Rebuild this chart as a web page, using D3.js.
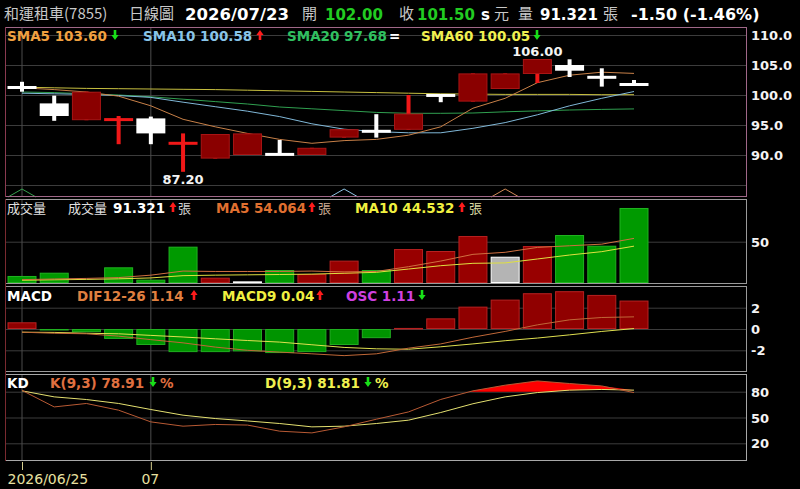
<!DOCTYPE html>
<html><head><meta charset="utf-8">
<script src="https://cdn.jsdelivr.net/npm/d3@7"></script>
<style>
html,body{margin:0;padding:0;background:#000;}
svg{display:block;}
</style></head><body>
<svg id="c" width="800" height="489"></svg>
<script>
// ---------- DATA ----------
const tickIdx = [0, 4];
const tickLabels = ["2026/06/25", "07"];

const openP  = [101.4, 98.6, 95.8, 95.85, 96.1, 91.9, 89.4, 90.0, 90.15, 90.0, 92.9, 94.2, 94.2, 100.1, 98.9, 101.0, 103.5, 105.0, 103.05, 102.0];
const highP  = [102.2, 99.9, 100.55, 96.5, 96.4, 93.6, 93.5, 93.6, 92.5, 91.2, 94.3, 96.8, 100.0, 100.1, 103.6, 103.6, 106.0, 105.95, 104.45, 102.5];
const lowP   = [100.55, 95.7, 95.8, 91.8, 91.8, 87.2, 89.4, 90.0, 90.05, 90.0, 92.9, 92.9, 94.2, 98.8, 98.9, 101.0, 102.0, 103.0, 101.4, 101.5];
const closeP = [101.1, 96.5, 100.55, 95.95, 93.6, 92.0, 93.5, 93.6, 90.05, 91.2, 94.3, 93.7, 96.9, 99.75, 103.6, 103.6, 106.0, 104.05, 102.85, 101.5];

const sma5  = [101.2, 100.9, 100.5, 99.8, 98.2, 95.95, 94.7, 93.6, 92.6, 91.95, 92.4, 92.6, 93.3, 94.7, 97.8, 99.45, 102.05, 103.3, 103.8, 103.6];
const sma10 = [100.3, 100.2, 100.1, 99.9, 99.6, 98.8, 98.05, 97.3, 96.4, 95.2, 94.3, 93.9, 93.7, 93.7, 94.45, 95.4, 96.7, 98.2, 99.45, 100.58];
const sma20 = [100.5, 100.4, 100.2, 100.0, 99.7, 99.3, 98.9, 98.5, 98.0, 97.7, 97.4, 97.1, 96.95, 96.95, 97.0, 97.2, 97.35, 97.5, 97.6, 97.68];
const sma60 = [101.3, 101.2, 101.1, 101.05, 101.0, 100.95, 100.9, 100.8, 100.7, 100.6, 100.5, 100.4, 100.3, 100.2, 100.15, 100.1, 100.1, 100.1, 100.05, 100.05];

const volume = [8.0, 12.0, 0, 18.6, 3.5, 43.9, 5.9, 1.4, 15.3, 10.4, 26.8, 15.3, 41.0, 38.6, 57.0, 31.6, 44.7, 58.2, 45.1, 91.321];
const volDir = ["down","down","up","down","down","down","up","flat","down","up","up","down","up","up","up","flat","up","down","down","down"];
const volMA5  = [3.5, 4.3, 5.0, 6.0, 9.0, 14.0, 13.5, 13.5, 13.5, 14.0, 13.0, 13.5, 19.4, 26.3, 34.5, 37.0, 43.0, 45.0, 47.0, 54.064];
const volMA10 = [2.7, 3.3, 3.8, 4.5, 5.6, 8.4, 9.0, 9.4, 9.8, 10.3, 11.3, 12.5, 16.5, 20.6, 23.5, 24.0, 28.8, 33.7, 37.8, 44.532];

const osc   = [0.63, -0.12, -0.3, -0.93, -1.5, -2.17, -2.17, -2.1, -2.26, -2.17, -1.5, -0.86, 0.1, 1.0, 2.1, 2.76, 3.36, 3.55, 3.2, 2.67];
const dif   = [-0.3, -0.4, -0.45, -0.67, -1.0, -1.3, -1.7, -2.0, -2.17, -2.33, -2.5, -2.33, -1.8, -1.4, -0.77, -0.23, 0.39, 0.86, 1.08, 1.14];
const macd9 = [-0.3, -0.32, -0.4, -0.45, -0.6, -0.75, -0.92, -1.08, -1.23, -1.48, -1.73, -1.86, -1.9, -1.67, -1.4, -1.1, -0.85, -0.55, -0.23, 0.04];

const kVal = [81.5, 62.3, 66.3, 58.5, 44.9, 39.9, 41.9, 41.2, 34.1, 32.1, 39.1, 48.0, 56.5, 71.0, 81.0, 87.6, 92.5, 89.5, 86.7, 78.91];
const dVal = [81.0, 74.0, 70.9, 66.3, 59.3, 52.7, 48.8, 46.0, 43.0, 39.1, 39.9, 43.0, 46.9, 55.8, 66.0, 74.0, 79.0, 81.8, 82.6, 81.81];

const priceTicks = [110, 105, 100, 95, 90, 85];
const volTicks = [50];
const macdTicks = [2, 0, -2];
const kdTicks = [80, 50, 20];

const signalIdx = [0, 10, 15];
const signalCol = ["#38a050", "#90c4e4", "#d08a58"];

// ---------- LAYOUT ----------
const svg = d3.select("#c");
svg.append("rect").attr("width",800).attr("height",489).attr("fill","#000");
const L = 5, R = 747;
const P = {
  main: {top: 27, bot: 197},
  vol:  {top: 199, bot: 284},
  macd: {top: 286, bot: 372},
  kd:   {top: 374, bot: 461}
};
const LAT = "'DejaVu Sans', Verdana, sans-serif";
const CJK = "'Noto Sans CJK TC', 'Noto Sans CJK SC', sans-serif";

const x = d3.scaleLinear().domain([0, 19]).range([22, 634]);
const yMain = d3.scaleLinear().domain([85, 110]).range([185, 35]);
const yVol = d3.scaleLinear().domain([0, 50]).range([282.5, 241.7]);
const yMacd = d3.scaleLinear().domain([-2, 2]).range([350.3, 307.7]);
const yKd = d3.scaleLinear().domain([20, 80]).range([443.3, 391.7]);
const BW = 29;
const idx = d3.range(openP.length);

function panel(p, scale, ticks, fmt) {
  const g = svg.append("g");
  g.append("rect").attr("x", L).attr("y", p.top).attr("width", R - L).attr("height", p.bot - p.top)
    .attr("fill", "#000");
  const ax = d3.axisRight(scale).tickValues(ticks).tickFormat(fmt).tickSize(-(R - L)).tickPadding(4);
  const ag = g.append("g").attr("transform", `translate(${R},0)`).call(ax);
  ag.select(".domain").remove();
  ag.selectAll(".tick line").attr("stroke", "#3c3c3c").attr("stroke-width", 1);
  ag.selectAll(".tick text").attr("fill", "#f4f4f4").attr("font-family", LAT)
    .attr("font-size", 13).attr("font-weight", "bold").attr("dy", "0.36em");
  tickIdx.forEach(i => {
    g.append("line").attr("x1", x(i)).attr("x2", x(i)).attr("y1", p.top).attr("y2", p.bot)
      .attr("stroke", "#4c4c4c").attr("stroke-width", 1);
  });
  return g;
}
panel(P.main, yMain, priceTicks, d => d === 85 ? "" : d.toFixed(1));
panel(P.vol, yVol, volTicks, d => d);
panel(P.macd, yMacd, macdTicks, d => d);
panel(P.kd, yKd, kdTicks, d => d);

// ---------- MAIN ----------
const gm = svg.append("g");
function line(g, arr, scale, color, w) {
  g.append("path").datum(arr)
    .attr("d", d3.line().x((d, i) => x(i)).y(d => scale(d)))
    .attr("fill", "none").attr("stroke", color).attr("stroke-width", w || 1);
}
line(gm, sma60, yMain, "#c8c040");
line(gm, sma20, yMain, "#30a050");
line(gm, sma10, yMain, "#80b8d8");
line(gm, sma5, yMain, "#c88048");

idx.forEach(i => {
  const o = openP[i], c = closeP[i], h = highP[i], l = lowP[i];
  const up = c > o;
  const wickCol = up ? "#f01818" : "#ffffff";
  gm.append("rect").attr("x", x(i) - 2).attr("width", 4)
    .attr("y", yMain(h)).attr("height", Math.max(2, yMain(l) - yMain(h))).attr("fill", wickCol);
  const yt = yMain(Math.max(o, c)), yb = yMain(Math.min(o, c));
  if (yb - yt < 3) {
    const ym = (yt + yb) / 2;
    gm.append("rect").attr("x", x(i) - BW / 2).attr("width", BW).attr("y", ym - 1.5).attr("height", 3).attr("fill", wickCol);
  } else if (up) {
    gm.append("rect").attr("x", x(i) - BW / 2 + 0.5).attr("width", BW - 1).attr("y", yt + 0.5).attr("height", yb - yt - 1)
      .attr("fill", "#8a0000").attr("stroke", "#a81414").attr("stroke-width", 1);
  } else {
    gm.append("rect").attr("x", x(i) - BW / 2).attr("width", BW).attr("y", yt).attr("height", yb - yt).attr("fill", "#ffffff");
  }
});
const hi = d3.maxIndex(highP), lo = d3.minIndex(lowP);
gm.append("text").attr("x", x(hi)).attr("y", yMain(highP[hi]) - 3.5).attr("text-anchor", "middle")
  .attr("fill", "#f4f4f4").attr("font-family", LAT).attr("font-size", 13).attr("font-weight", "bold").text(highP[hi].toFixed(2));
gm.append("text").attr("x", x(lo)).attr("y", yMain(lowP[lo]) + 12.5).attr("text-anchor", "middle")
  .attr("fill", "#f4f4f4").attr("font-family", LAT).attr("font-size", 13).attr("font-weight", "bold").text(lowP[lo].toFixed(2));
signalIdx.forEach((s, k) => {
  gm.append("path").attr("d", `M${x(s) - 14},${P.main.bot} L${x(s)},${P.main.bot - 8} L${x(s) + 14},${P.main.bot}`)
    .attr("fill", "none").attr("stroke", signalCol[k]).attr("stroke-width", 1);
});

// ---------- VOLUME ----------
const gv = svg.append("g");
const volFill = {up: "#980000", down: "#009a00", flat: "#b4b4b4"};
const volStroke = {up: "#b82020", down: "#20b420", flat: "#ffffff"};
idx.forEach(i => {
  if (volume[i] <= 0) return;
  const yt = yVol(volume[i]);
  gv.append("rect").attr("x", x(i) - BW / 2 + 0.5).attr("width", BW - 1).attr("y", yt + 0.5)
    .attr("height", Math.max(0.5, yVol(0) - yt - 0.5))
    .attr("fill", volFill[volDir[i]]).attr("stroke", volStroke[volDir[i]]).attr("stroke-width", 1);
});
line(gv, volMA10, yVol, "#e0e040");
line(gv, volMA5, yVol, "#d07040");

// ---------- MACD ----------
const gc = svg.append("g");
idx.forEach(i => {
  const v = osc[i];
  const y0 = yMacd(0), y1 = yMacd(v);
  const pos = v >= 0;
  gc.append("rect").attr("x", x(i) - BW / 2 + 0.5).attr("width", BW - 1)
    .attr("y", Math.min(y0, y1) + 0.5).attr("height", Math.max(0.5, Math.abs(y1 - y0) - 1))
    .attr("fill", pos ? "#900000" : "#009400").attr("stroke", pos ? "#b82020" : "#20b020").attr("stroke-width", 1);
});
line(gc, macd9, yMacd, "#e0e050");
line(gc, dif, yMacd, "#c06838");

// ---------- KD ----------
const gk = svg.append("g");
svg.append("clipPath").attr("id", "ob").append("rect")
  .attr("x", L).attr("y", P.kd.top).attr("width", R - L).attr("height", yKd(80) - P.kd.top);
gk.append("path").datum(idx)
  .attr("d", d3.area().x(i => x(i)).y0(i => yKd(dVal[i])).y1(i => yKd(Math.max(kVal[i], dVal[i]))))
  .attr("fill", "#ff0000").attr("clip-path", "url(#ob)");
line(gk, dVal, yKd, "#e4e070");
line(gk, kVal, yKd, "#b85a34");

function frame(p, col) {
  svg.append("rect").attr("x", L + 0.5).attr("y", p.top + 0.5).attr("width", R - L - 1).attr("height", p.bot - p.top - 1)
    .attr("fill", "none").attr("stroke", col).attr("stroke-width", 1);
}
frame(P.main, "#a06888");
frame(P.vol, "#9a9a9a");
frame(P.macd, "#9a9a9a");
frame(P.kd, "#a8a8a8");
svg.append("line").attr("x1", L + 0.5).attr("x2", L + 0.5).attr("y1", P.vol.top).attr("y2", P.kd.bot)
  .attr("stroke", "#7a2a30").attr("stroke-width", 1);
svg.append("line").attr("x1", L + 0.5).attr("x2", L + 0.5).attr("y1", P.main.top).attr("y2", P.main.bot)
  .attr("stroke", "#8a3a50").attr("stroke-width", 1);

// ---------- bottom axis ----------
const xa = d3.axisBottom(x).tickValues(tickIdx).tickFormat((d, k) => tickLabels[k]).tickSize(8).tickPadding(2);
const xg = svg.append("g").attr("transform", `translate(0,${P.kd.bot + 1})`).call(xa);
xg.select(".domain").remove();
xg.selectAll(".tick line").attr("stroke", "#d8d090");
xg.selectAll(".tick text").attr("fill", "#e8e0a0").attr("font-family", LAT).attr("font-size", 14)
  .attr("dy", 0).attr("y", 22)
  .attr("text-anchor", (d, k) => k === 0 ? "start" : "middle")
  .attr("x", (d, k) => k === 0 ? -15 : -1);

// ---------- TEXT ----------
function txt(s, xx, yy, col, size, bold, fam) {
  svg.append("text").attr("x", xx).attr("y", yy).attr("fill", col).attr("font-size", size)
    .attr("font-weight", bold ? "bold" : "normal").attr("font-family", fam || LAT).text(s);
}
function arrow(cx, b, dir, col) {
  const h = 10, hw = 3.6, sw = 1.3, hh = 5;
  let d;
  if (dir === "up") d = `M${cx},${b - h} L${cx + hw},${b - h + hh} L${cx + sw},${b - h + hh} L${cx + sw},${b} L${cx - sw},${b} L${cx - sw},${b - h + hh} L${cx - hw},${b - h + hh} Z`;
  else d = `M${cx},${b} L${cx + hw},${b - hh} L${cx + sw},${b - hh} L${cx + sw},${b - h} L${cx - sw},${b - h} L${cx - sw},${b - hh} L${cx - hw},${b - hh} Z`;
  svg.append("path").attr("d", d).attr("fill", col);
}
const RED = "#ff1c1c", GRN = "#18e018", GRAY = "#c8c8c8";
txt("和運租車(7855)", 4, 19, GRAY, 15, false, CJK);
txt("日線圖", 129, 19, GRAY, 15, false, CJK);
txt("2026/07/23", 185, 20, "#ffffff", 16.5, true);
txt("開", 302, 19, GRAY, 15, false, CJK);
txt("102.00", 325, 20, "#22cc22", 15, true);
txt("收", 399, 19, GRAY, 15, false, CJK);
txt("101.50", 417, 20, "#22cc22", 15, true);
txt("s", 481, 20, "#ffffff", 15, true);
txt("元", 494, 19, GRAY, 15, false, CJK);
txt("量", 518, 19, GRAY, 15, false, CJK);
txt("91.321", 540, 20, "#ffffff", 15, true);
txt("張", 603, 19, GRAY, 15, false, CJK);
txt("-1.50 (-1.46%)", 631, 20, "#ffffff", 16, true);

txt("SMA5 103.60", 7, 41, "#f0a040", 13.5, true); arrow(115, 40, "down", GRN);
txt("SMA10 100.58", 143, 41, "#88c4e8", 13.5, true); arrow(260, 40, "up", RED);
txt("SMA20 97.68", 287, 41, "#30c060", 13.5, true); txt("=", 389, 41, "#ffffff", 13.5, true);
txt("SMA60 100.05", 421, 41, "#f0f050", 13.5, true); arrow(537, 40, "down", GRN);

txt("成交量", 7, 213, "#e0e0e0", 13, false, CJK);
txt("成交量", 68, 213, "#e0e0e0", 13, false, CJK);
txt("91.321", 113, 213, "#ffffff", 13.5, true); arrow(173, 212, "up", RED);
txt("張", 178, 213, "#d0d0d0", 13, false, CJK);
txt("MA5 54.064", 216, 213, "#e07030", 13.5, true); arrow(312, 212, "up", RED);
txt("張", 318, 213, "#c8a890", 13, false, CJK);
txt("MA10 44.532", 355, 213, "#f0f040", 13.5, true); arrow(462, 212, "up", RED);
txt("張", 469, 213, "#d8d8a0", 13, false, CJK);

txt("MACD", 7, 301, "#ffffff", 13.5, true);
txt("DIF12-26 1.14", 77, 301, "#e08040", 13.5, true); arrow(194, 300, "up", RED);
txt("MACD9 0.04", 222, 301, "#f0f040", 13.5, true); arrow(320, 300, "up", RED);
txt("OSC 1.11", 346, 301, "#d040e0", 13.5, true); arrow(422, 300, "down", GRN);

txt("KD", 7, 388, "#ffffff", 13.5, true);
txt("K(9,3) 78.91", 50, 388, "#e07040", 13.5, true); arrow(153, 387, "down", GRN);
txt("%", 160, 388, "#e07040", 13.5, true);
txt("D(9,3) 81.81", 265, 388, "#f0f050", 13.5, true); arrow(368, 387, "down", GRN);
txt("%", 375, 388, "#f0f050", 13.5, true);
</script>
</body></html>
